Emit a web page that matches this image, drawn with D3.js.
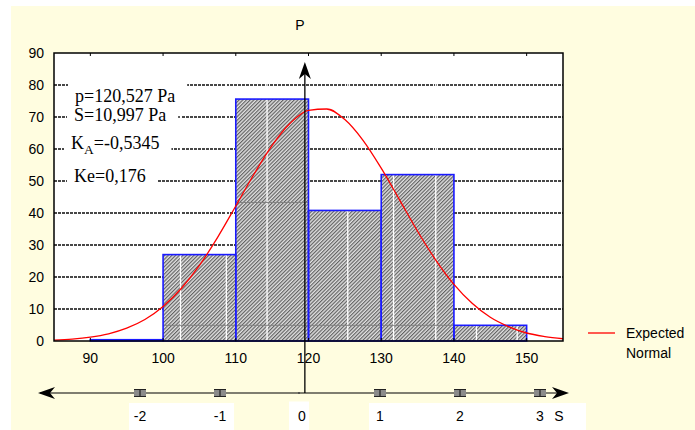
<!DOCTYPE html>
<html>
<head>
<meta charset="utf-8">
<script src="https://cdn.jsdelivr.net/npm/d3@7"></script>
<style>
  body { margin: 0; background: #fff; }
  svg { display: block; }
  .sans { font-family: "Liberation Sans", Arial, sans-serif; }
  .serif { font-family: "Liberation Serif", "Times New Roman", serif; }
</style>
</head>
<body>
<div id="chart"></div>
<script>
// histogram bins (class boundaries) and counts
const binEdges = [90, 100, 110, 120, 130, 140, 150];
const counts   = [0.4, 27, 75.6, 40.8, 52, 4.9];

// expected normal curve
const normalX = [85, 87.5, 90, 92.5, 95, 97.5, 100, 102.5, 105, 107.5, 110, 112.5, 115, 117.5,
                 120, 122.5, 125, 127.5, 130, 132.5, 135, 137.5, 140, 142.5, 145, 147.5, 150, 152.5, 155];
const normalY = [0.3, 0.6, 1.2, 2.25, 4.0, 6.7, 10.8, 16.4, 23.6, 32.4, 42.2, 52.1, 61.1, 68.1,
                 72.1, 72.5, 69.2, 62.7, 54.0, 44.2, 34.3, 25.3, 17.7, 11.8, 7.4, 4.5, 2.5, 1.4, 0.7];

const xTicks = [90, 100, 110, 120, 130, 140, 150];
const yTicks = [0, 10, 20, 30, 40, 50, 60, 70, 80, 90];
const gridLevels = [10, 20, 30, 40, 50, 60, 70, 80];
// breaks in the dotted grid (white vertical seams)
const seams = [102.4, 108.7, 114.3, 125.4, 131.7, 137.5, 143.1, 148.7];
// faint inner lines seen inside the bars: [from, to, level]
const innerLines = [[100, 140, 4.9], [110, 120, 43.3]];

const sigmaTicks = [-2, -1, 0, 1, 2, 3];
const sigmaMarks = [-2, -1, 1, 2, 3];
const sigmaGroups = [[-2, -1], [0], [1, 2, 3]];

const statLines = [
  { main: "p=120,527 Pa" },
  { main: "S=10,997 Pa" },
  { main: "K", sub: "A", rest: "=-0,5345" },
  { main: "Ke=0,176" }
];
const statPos = [[75, 101.5], [74, 120.5], [71, 149], [74, 181.5]];

const W = 695, H = 430;
const plot = { left: 54, top: 53, right: 563, bottom: 341 };
const pAxisAt = 119.5;

const svg = d3.select("#chart").append("svg")
    .attr("width", W).attr("height", H);

const defs = svg.append("defs");
const pat = defs.append("pattern")
    .attr("id", "hatch")
    .attr("width", 2.6).attr("height", 2.6)
    .attr("patternUnits", "userSpaceOnUse")
    .attr("patternTransform", "rotate(45)");
pat.append("rect").attr("width", 2.6).attr("height", 2.6).attr("fill", "#e0e0e0");
pat.append("line").attr("x1", 0.6).attr("x2", 0.6).attr("y1", 0).attr("y2", 2.6)
    .attr("stroke", "#5a5a5a").attr("stroke-width", 1.1);

defs.append("clipPath").attr("id", "plotclip")
  .append("rect")
    .attr("x", plot.left).attr("y", plot.top)
    .attr("width", plot.right - plot.left).attr("height", plot.bottom - plot.top);

// page background
svg.append("rect").attr("x", 11).attr("y", 6).attr("width", W - 11).attr("height", H - 6)
    .attr("fill", "#fffde0");

let x = d3.scaleLinear().domain([85, 155]).range([plot.left, plot.right]);
let y = d3.scaleLinear().domain([0, 90]).range([plot.bottom, plot.top]);
let s = d3.scaleLinear().domain([-2, 3]).range([140, 540]);

svg.append("rect")
    .attr("x", plot.left).attr("y", plot.top)
    .attr("width", plot.right - plot.left).attr("height", plot.bottom - plot.top)
    .attr("fill", "#fff");

// dotted grid
svg.append("g").selectAll("line")
    .data(gridLevels)
  .enter().append("line")
    .attr("x1", plot.left).attr("x2", plot.right)
    .attr("y1", d => y(d)).attr("y2", d => y(d))
    .attr("stroke", "#474747").attr("stroke-width", 2.2)
    .attr("stroke-dasharray", "3,1");

let bins = counts.map((c, i) => ({ x0: binEdges[i], x1: binEdges[i + 1], v: c }));

// bar fills
svg.append("g").selectAll("rect")
    .data(bins)
  .enter().append("rect")
    .attr("x", d => x(d.x0)).attr("width", d => x(d.x1) - x(d.x0))
    .attr("y", d => y(d.v)).attr("height", d => y(0) - y(d.v))
    .attr("fill", "url(#hatch)");

// white seams
svg.append("g").attr("clip-path", "url(#plotclip)").selectAll("line")
    .data(seams)
  .enter().append("line")
    .attr("x1", d => x(d)).attr("x2", d => x(d))
    .attr("y1", plot.top + 2).attr("y2", plot.bottom)
    .attr("stroke", "#fff").attr("stroke-width", 1.3);

svg.append("g").selectAll("line")
    .data(innerLines)
  .enter().append("line")
    .attr("x1", d => x(d[0])).attr("x2", d => x(d[1]))
    .attr("y1", d => y(d[2])).attr("y2", d => y(d[2]))
    .attr("stroke", "#808080").attr("stroke-width", 1);

// bar outlines
svg.append("g").selectAll("rect")
    .data(bins)
  .enter().append("rect")
    .attr("x", d => x(d.x0)).attr("width", d => x(d.x1) - x(d.x0))
    .attr("y", d => y(d.v)).attr("height", d => y(0) - y(d.v))
    .attr("fill", "none")
    .attr("stroke", "#1a1aff").attr("stroke-width", 1.6);

// expected normal
svg.append("path")
    .datum(normalX.map((v, i) => [v, normalY[i]]))
    .attr("clip-path", "url(#plotclip)")
    .attr("fill", "none")
    .attr("stroke", "#ff0000").attr("stroke-width", 1.3)
    .attr("d", d3.line().x(d => x(d[0])).y(d => y(d[1])).curve(d3.curveMonotoneX));

// frame
svg.append("rect")
    .attr("x", plot.left).attr("y", plot.top)
    .attr("width", plot.right - plot.left).attr("height", plot.bottom - plot.top)
    .attr("fill", "none").attr("stroke", "#000").attr("stroke-width", 1.5);

svg.append("g").selectAll("line")
    .data(xTicks)
  .enter().append("line")
    .attr("x1", d => x(d)).attr("x2", d => x(d))
    .attr("y1", plot.top).attr("y2", plot.top + 3)
    .attr("stroke", "#000");

svg.append("g").selectAll("line")
    .data(xTicks)
  .enter().append("line")
    .attr("x1", d => x(d)).attr("x2", d => x(d))
    .attr("y1", plot.bottom).attr("y2", plot.bottom - 3)
    .attr("stroke", "#000");

svg.append("g").attr("class", "sans").selectAll("text")
    .data(yTicks)
  .enter().append("text")
    .attr("x", plot.left - 10).attr("y", d => y(d))
    .attr("dy", "0.36em")
    .attr("text-anchor", "end")
    .attr("font-size", 14)
    .text(d => d);

svg.append("g").attr("class", "sans").selectAll("text")
    .data(xTicks)
  .enter().append("text")
    .attr("x", d => x(d)).attr("y", 358)
    .attr("dy", "0.36em")
    .attr("text-anchor", "middle")
    .attr("font-size", 14)
    .text(d => d);

// P axis with arrow
const px = x(pAxisAt);
svg.append("line")
    .attr("x1", px).attr("x2", px).attr("y1", 393).attr("y2", 68)
    .attr("stroke", "#000").attr("stroke-width", 1.3);
svg.append("path")
    .attr("d", `M${px},62 L${px - 6},79 L${px},74 L${px + 6},79 Z`)
    .attr("fill", "#000");
svg.append("text").attr("class", "sans")
    .attr("x", px - 5).attr("y", 25).attr("dy", "0.36em")
    .attr("text-anchor", "middle").attr("font-size", 14)
    .text("P");

// statistics block: white boxes first, then text
let statBoxes = svg.append("g");
let stat = svg.append("g").attr("class", "serif");
statLines.forEach((l, i) => {
  let t = stat.append("text")
      .attr("x", statPos[i][0]).attr("y", statPos[i][1])
      .attr("font-size", 18);
  t.append("tspan").text(l.main);
  if (l.sub) {
    t.append("tspan").attr("dy", 5).attr("font-size", 13.5).text(l.sub);
    t.append("tspan").attr("dy", -5).text(l.rest);
  }
  let b = t.node().getBBox();
  statBoxes.append("rect")
      .attr("x", b.x - 7).attr("y", statPos[i][1] - 19)
      .attr("width", b.width + 19).attr("height", 23)
      .attr("fill", "#fff");
});

// legend
svg.append("line")
    .attr("x1", 588).attr("x2", 615).attr("y1", 333).attr("y2", 333)
    .attr("stroke", "#ff0000").attr("stroke-width", 1.3);
svg.append("text").attr("class", "sans")
    .attr("x", 626).attr("y", 338).attr("font-size", 14)
  .selectAll("tspan")
    .data(["Expected", "Normal"])
  .enter().append("tspan")
    .attr("x", 626).attr("dy", (d, i) => i ? 20 : 0)
    .text(d => d);

// sigma axis
const sy = 393;
svg.append("g").selectAll("rect")
    .data(sigmaGroups)
  .enter().append("rect")
    .attr("x", d => s(d[0]) - 11)
    .attr("y", d => d.length === 1 ? 401.5 : 403)
    .attr("width", d => d.length === 1 ? 20 : s(d[d.length - 1]) - s(d[0]) + (d.length === 3 ? 57 : 25))
    .attr("height", 30)
    .attr("fill", "#fff");

svg.append("line")
    .attr("x1", 40).attr("x2", 566).attr("y1", sy).attr("y2", sy)
    .attr("stroke", "#000").attr("stroke-width", 1.2);
svg.append("path")
    .attr("d", `M38,${sy} L55,${sy - 6} L50,${sy} L55,${sy + 6} Z`)
    .attr("fill", "#000");
svg.append("path")
    .attr("d", `M569,${sy} L552,${sy - 6} L557,${sy} L552,${sy + 6} Z`)
    .attr("fill", "#000");

let marks = svg.append("g").selectAll("g")
    .data(sigmaMarks)
  .enter().append("g")
    .attr("transform", d => "translate(" + s(d) + "," + sy + ")");
marks.append("rect").attr("x", -6).attr("y", -3.5).attr("width", 12).attr("height", 7)
    .attr("fill", "#8a8a8a");
marks.append("path").attr("d", "M-6,-3.5H6M-6,3.5H6M0,-3.5V3.5")
    .attr("stroke", "#222").attr("stroke-width", 1.2).attr("fill", "none");
svg.append("circle").attr("cx", s(0) - 1).attr("cy", sy).attr("r", 1).attr("fill", "#444");

svg.append("g").attr("class", "sans").selectAll("text")
    .data(sigmaTicks)
  .enter().append("text")
    .attr("x", d => s(d) + (d === 0 ? 2 : 0)).attr("y", 416)
    .attr("dy", "0.36em")
    .attr("text-anchor", "middle")
    .attr("font-size", 14)
    .text(d => d);
svg.append("text").attr("class", "sans")
    .attr("x", 559).attr("y", 416).attr("dy", "0.36em")
    .attr("text-anchor", "middle").attr("font-size", 14)
    .text("S");
</script>
</body>
</html>
